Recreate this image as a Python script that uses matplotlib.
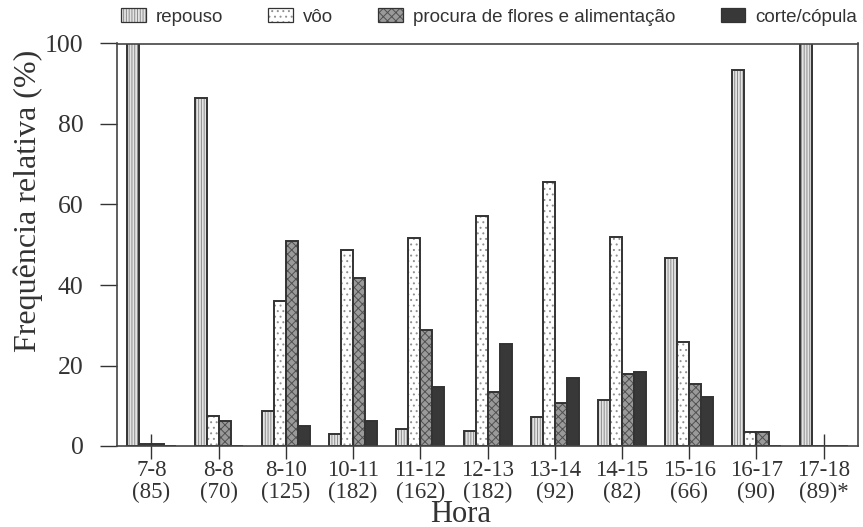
import matplotlib
matplotlib.use("Agg")
import matplotlib.pyplot as plt
from matplotlib.legend_handler import HandlerTuple
import numpy as np

plt.rcParams["hatch.linewidth"] = 0.7

hours = ["7-8", "8-8", "8-10", "10-11", "11-12", "12-13", "13-14",
         "14-15", "15-16", "16-17", "17-18"]
n_obs = ["(85)", "(70)", "(125)", "(182)", "(162)", "(182)", "(92)",
         "(82)", "(66)", "(90)", "(89)*"]

repouso = [100, 86.5, 8.7, 3.0, 4.2, 3.8, 7.1, 11.5, 46.6, 93.4, 100]
voo = [0.5, 7.5, 36.0, 48.6, 51.8, 57.2, 65.6, 52.0, 25.9, 3.4, 0]
procura = [0.5, 6.2, 51.0, 41.8, 28.9, 13.3, 10.6, 17.9, 15.3, 3.4, 0]
corte = [0, 0, 5.0, 6.2, 14.7, 25.4, 16.9, 18.5, 12.2, 0, 0]

# name, values, face colour, hatch, hatch colour
series = [
    ("repouso", repouso, "#e4e4e4", "||||||", "#8c8c8c"),
    ("vôo", voo, "white", "...", "#909090"),
    ("procura de flores e alimentação", procura, "#9a9a9a", "xxxx", "#505050"),
    ("corte/cópula", corte, "#383838", None, "#383838"),
]

INK = "#333333"
SERIF = "Liberation Serif"

fig = plt.figure(figsize=(8.63, 5.27), dpi=100)
ax = fig.add_axes([117 / 863, 1 - 446 / 527, (858 - 117) / 863, (446 - 43.5) / 527])

x = np.arange(len(hours))
w = 0.179
handles = []
for i, (name, vals, face, hatch, hcol) in enumerate(series):
    pos = x + (i - 1.5) * w
    ax.bar(pos, vals, w, color=face, hatch=hatch, edgecolor=hcol, linewidth=0)
    ax.bar(pos, vals, w, fill=False, edgecolor=INK, linewidth=1.4)
    fill = plt.Rectangle((0, 0), 1, 1, facecolor=face, hatch=hatch,
                         edgecolor=hcol, linewidth=0)
    outline = plt.Rectangle((0, 0), 1, 1, fill=False, edgecolor=INK,
                            linewidth=0.9)
    handles.append((fill, outline))

ax.set_xlim(-0.513, 10.51)
ax.set_ylim(0, 100)
ax.set_yticks([0, 20, 40, 60, 80, 100])
ax.set_xticks(x)
ax.set_xticklabels([f"{h}\n{n}" for h, n in zip(hours, n_obs)],
                   fontfamily=SERIF, fontsize=16.5, color=INK, linespacing=1.05)
for lab in ax.get_yticklabels():
    lab.set_fontfamily(SERIF)
ax.tick_params(axis="y", direction="out", length=12, width=1, pad=12,
               labelsize=18.5, colors=INK)
ax.tick_params(axis="x", direction="inout", length=18, width=1, pad=1,
               colors=INK)
for sp in ax.spines.values():
    sp.set_color("#444444")
    sp.set_linewidth(1.2)

fig.text(28 / 863, 1 - 201 / 527, "Frequência relativa (%)", rotation=90,
         ha="center", va="center", fontfamily=SERIF, fontsize=23, color=INK)
fig.text(461 / 863, 1 - 514 / 527, "Hora", ha="center", va="center",
         fontfamily=SERIF, fontsize=22, color=INK)

leg = fig.legend(handles, [s[0] for s in series], loc="center left",
                 bbox_to_anchor=(121 / 863, 1 - 17 / 527), ncol=4,
                 frameon=False, borderpad=0, borderaxespad=0,
                 handlelength=1.33, handleheight=0.75, handletextpad=0.53,
                 columnspacing=2.4,
                 handler_map={tuple: HandlerTuple(ndivide=1)},
                 prop={"family": "Liberation Sans", "size": 13.5})
for t in leg.get_texts():
    t.set_color(INK)

fig.savefig("out.png", dpi=100)
